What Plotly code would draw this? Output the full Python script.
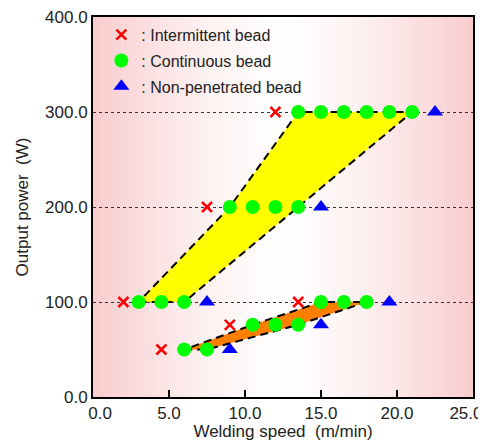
import plotly.graph_objects as go

# ---- data ----
inter_x = [12, 7.5, 2.0, 13.5, 9, 4.5]
inter_y = [300, 200, 100, 100, 76, 50]

cont_x = [13.5, 15, 16.5, 18, 19.5, 21,
          9, 10.5, 12, 13.5,
          3, 4.5, 6,
          15, 16.5, 18,
          10.5, 12, 13.5,
          6, 7.5]
cont_y = [300] * 6 + [200] * 4 + [100] * 3 + [100] * 3 + [76] * 3 + [50] * 2

non_x = [22.5, 15, 7.5, 19.5, 15, 9]
non_y = [300, 200, 100, 100, 76, 50]

# process windows: outlines through the continuous-bead points
win1_x = [3, 6, 21, 13.5, 9, 3]
win1_y = [100, 100, 300, 300, 200, 100]
win2_x = [6, 7.5, 13.5, 18, 15, 10.5, 6]
win2_y = [50, 50, 76, 100, 100, 76, 50]

x_ticks = [0, 5, 10, 15, 20, 25]
x_ticktext = ["\u00a0\u00a0\u00a00.0", "5.0", "10.0", "15.0", "20.0", "25.0\u00a0\u00a0\u00a0"]
y_ticks = [0, 100, 200, 300, 400]
y_ticktext = ["0.0", "100.0", "200.0", "300.0", "400.0"]

FONT = "Liberation Sans, Arial, sans-serif"

fig = go.Figure()

fig.add_trace(go.Scatter(x=win1_x, y=win1_y, mode="lines", fill="toself",
                         fillcolor="#ffff00", line=dict(color="black", width=2, dash="8px,5px"),
                         showlegend=False, hoverinfo="skip"))
fig.add_trace(go.Scatter(x=win2_x, y=win2_y, mode="lines", fill="toself",
                         fillcolor="#ff8000", line=dict(color="black", width=2, dash="8px,5px"),
                         showlegend=False, hoverinfo="skip"))

fig.add_trace(go.Scatter(x=inter_x, y=inter_y, mode="markers", name=": Intermittent bead",
                         legendgroup="a",
                         marker=dict(symbol="x-thin", size=10, line=dict(color="#ff0000", width=2.5),
                                     color="#ff0000")))
fig.add_trace(go.Scatter(x=cont_x, y=cont_y, mode="markers", name=": Continuous bead",
                         legendgroup="b",
                         marker=dict(symbol="circle", size=14, color="#00ff00")))
fig.add_trace(go.Scatter(x=non_x, y=non_y, mode="markers", name=": Non-penetrated bead",
                         legendgroup="c",
                         marker=dict(symbol="triangle-up", size=14, color="#0000ff")))

# horizontal gradient background (pink - white - pink)
n = 80
pink = (249, 204, 205)
white = (255, 254, 254)
shapes = []
for i in range(n):
    u0 = i / n
    u1 = (i + 1) / n
    uc = (u0 + u1) / 2
    t = min(1.0, abs(uc - 0.5) / 0.5)
    t = t ** 1.4
    c = tuple(round(white[k] * (1 - t) + pink[k] * t) for k in range(3))
    shapes.append(dict(type="rect", xref="x domain", yref="y domain",
                       x0=u0, x1=u1 + 0.002, y0=0, y1=1, layer="below",
                       line=dict(width=0), fillcolor="rgb(%d,%d,%d)" % c))

fig.update_layout(
    width=478, height=433,
    margin=dict(l=85, r=13, t=9, b=44),
    paper_bgcolor="white", plot_bgcolor="white",
    font=dict(family=FONT, size=16, color="#222"),
    shapes=shapes,
    showlegend=True,
    legend=dict(x=0.022, y=0.998, xanchor="left", yanchor="top",
                bgcolor="rgba(0,0,0,0)", font=dict(size=16, color="#222"),
                traceorder="grouped", tracegroupgap=2),
)

fig.update_xaxes(range=[0, 25], tickvals=x_ticks, ticktext=x_ticktext,
                 ticks="inside", ticklen=7, tickwidth=2, tickcolor="black",
                 showline=True, linecolor="black", linewidth=2, mirror=True,
                 showgrid=False, zeroline=False, ticklabeloverflow="allow",
                 tickfont=dict(size=17),
                 title=dict(text="Welding speed  (m/min)", font=dict(size=17), standoff=16),
                 automargin=False)
fig.update_yaxes(range=[0, 400], tickvals=y_ticks, ticktext=y_ticktext,
                 ticks="inside", ticklen=0, tickcolor="black",
                 showline=True, linecolor="black", linewidth=2, mirror=True,
                 showgrid=True, gridcolor="#333", gridwidth=1.2, griddash="dot",
                 zeroline=False, ticklabeloverflow="allow",
                 tickfont=dict(size=17),
                 title=dict(text="Output power  (W)", font=dict(size=17), standoff=12),
                 automargin=False)

fig.write_html("out.html")
